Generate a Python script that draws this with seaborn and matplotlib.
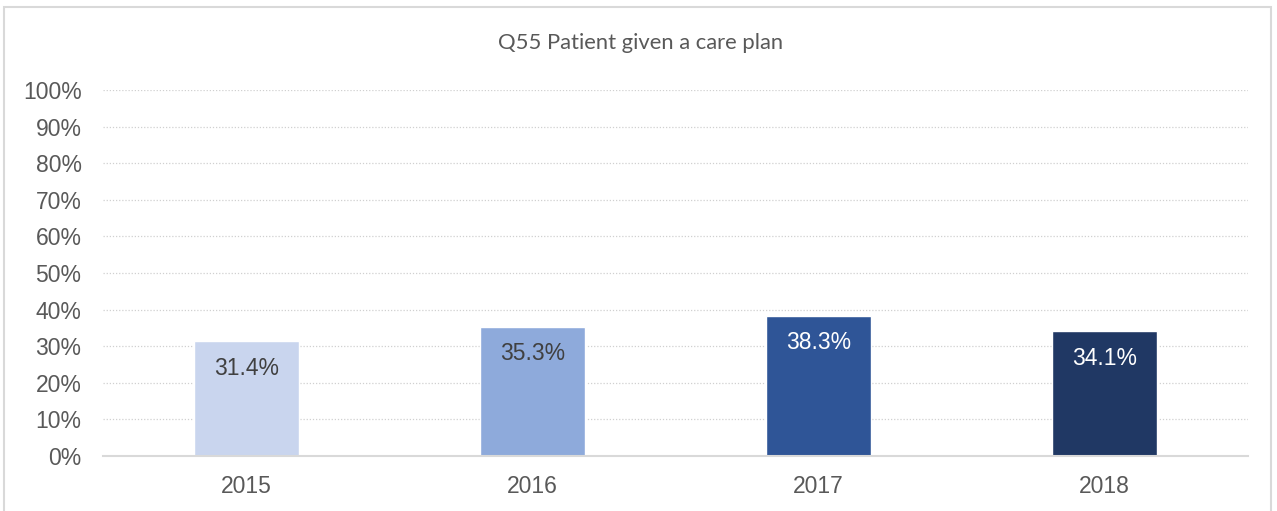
import matplotlib
matplotlib.use("Agg")
import matplotlib.pyplot as plt
import seaborn as sns
import pandas as pd
from matplotlib.patches import Rectangle

years = ["2015", "2016", "2017", "2018"]
values = [31.4, 35.3, 38.3, 34.1]
colors = ["#C9D5EE", "#8EAADB", "#2F5597", "#203864"]
label_colors = ["#404040", "#404040", "#FFFFFF", "#FFFFFF"]
y_ticks = list(range(0, 101, 10))
title = "Q55 Patient given a care plan"

df = pd.DataFrame({"year": years, "value": values})

sns.set_theme(style="white")
plt.rcParams["font.family"] = ["Liberation Sans", "DejaVu Sans"]

fig = plt.figure(figsize=(12.77, 5.11), dpi=100)
ax = fig.add_axes([0.0807, 0.1076, 0.8963, 0.7164])

sns.barplot(data=df, x="year", y="value", hue="year", palette=colors,
            legend=False, width=0.367, saturation=1, ax=ax, zorder=3)

ax.set_ylim(0, 100)
ax.set_xlim(-0.5, len(years) - 0.5)
ax.set_yticks(y_ticks)
ax.set_yticklabels([f"{t}%" for t in y_ticks])
ax.set_xlabel("")
ax.set_ylabel("")
ax.tick_params(axis="both", length=0, labelsize=16.5, colors="#595959")
ax.tick_params(axis="x", pad=14)
ax.tick_params(axis="y", pad=15.5)

ax.yaxis.grid(True, linestyle=(0, (1, 1.5)), color="#D0D0D0", linewidth=0.9, zorder=0)
ax.xaxis.grid(False)
for side in ["top", "right", "left"]:
    ax.spines[side].set_visible(False)
ax.spines["bottom"].set_color("#D9D9D9")
ax.spines["bottom"].set_linewidth(1.5)
ax.spines["bottom"].set_zorder(4)

for i, (v, c) in enumerate(zip(values, label_colors)):
    ax.annotate(f"{v:.1f}%", xy=(i, v), xytext=(0, -27), textcoords="offset pixels",
                ha="center", va="center", fontsize=16.5, color=c, zorder=5)

fig.text(641 / 1277, 1 - 43 / 511, title, ha="center", va="center",
         fontsize=15.8, color="#595959", family=["Lato", "DejaVu Sans"])

fig.patches.append(Rectangle((4 / 1277, -0.01), 1267 / 1277, 1 - 7 / 511 + 0.01,
                             transform=fig.transFigure, fill=False,
                             edgecolor="#D9D9D9", linewidth=1.5))

fig.savefig("out.png", dpi=100, facecolor="white")
